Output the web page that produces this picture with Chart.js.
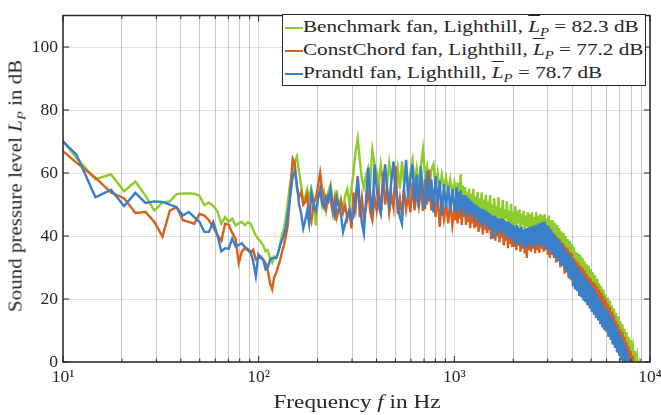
<!DOCTYPE html>
<html>
<head>
<meta charset="utf-8">
<script src="https://cdn.jsdelivr.net/npm/chart.js@4.4.1/dist/chart.umd.min.js"></script>
<style>
  body { margin: 0; background: #fff; }
  #wrap { position: relative; width: 661px; height: 415px; font-family: "Liberation Serif", "DejaVu Serif", serif; color: #262626; }
  canvas { position: absolute; left: 0; top: 0; }
  .axis-title { position: absolute; font-size: 18.5px; line-height: 19px; white-space: nowrap; }
  sub { font-size: 70%; vertical-align: -0.3em; line-height: 0; font-style: italic; }
  .bar { text-decoration: overline; text-decoration-thickness: 1px; }
  #legend { position: absolute; left: 281.5px; top: 14px; width: 362px; height: 70px; border: 1px solid #262626; background: #fff; font-size: 17.5px; line-height: 23px; }
  .row { position: relative; height: 23px; white-space: nowrap; }
  .swatch { position: absolute; left: 2px; top: 11.5px; width: 18px; height: 2.5px; }
  .label { position: absolute; left: 20.5px; top: 0; transform-origin: left center; }
</style>
</head>
<body>
<div id="wrap">
  <canvas id="myChart" width="661" height="415"></canvas>
  <div class="axis-title" id="ytitle" style="left:16.3px; top:186px;">Sound pressure level <i>L</i><sub>P</sub> in dB</div>
  <div class="axis-title" id="xtitle" style="left:356.5px; top:401.5px;">Frequency <i>f</i> in Hz</div>
  <div id="legend"></div>
</div>
<script>
// 頻率軸 (Hz)：低頻為 FFT 頻格，高頻為取樣點
const freqHz = [
  8.79, 11.72, 14.65, 17.58, 20.51, 23.44, 26.37, 29.30, 32.23, 35.16,
  38.09, 41.02, 43.95, 46.88, 49.80, 52.73, 55.66, 58.59, 61.52, 64.45,
  67.38, 70.31, 73.24, 76.17, 79.10, 82.03, 84.96, 87.89, 90.82, 93.75,
  96.68, 99.61, 102.5, 105.5, 108.4, 111.3, 114.3, 117.2, 120.1, 123.0,
  126.0, 128.9, 131.8, 134.8, 137.7, 140.6, 143.6, 146.5, 149.4,
  153, 157, 161, 165, 169, 173, 177, 181, 186, 191, 196, 201, 206, 211, 216, 221, 227, 233, 239, 245, 251, 257, 263, 270, 277, 284, 291, 298,
  305, 313, 321, 329, 337, 345, 354, 363, 372, 381, 391, 401, 411, 421, 432, 443, 454, 465, 477, 489, 501,
  514, 527, 540, 553, 567, 581, 596, 611, 626, 642, 658, 674, 691, 708, 726, 744, 763, 782, 802, 822, 842, 863, 885, 907, 930, 953, 977, 1001,
  1013, 1026, 1039, 1052, 1065, 1078, 1091, 1105,
  1119, 1133, 1147, 1161, 1175, 1190, 1205, 1220,
  1235, 1250, 1266, 1282, 1298, 1314, 1330, 1346,
  1363, 1380, 1397, 1415, 1432, 1450, 1468, 1486,
  1504, 1523, 1542, 1561, 1580, 1600, 1620, 1640,
  1660, 1681, 1702, 1723, 1745, 1767, 1789, 1811,
  1833, 1856, 1879, 1902, 1926, 1950, 1974, 1999,
  2024, 2049, 2074, 2100, 2126, 2152, 2179, 2206,
  2233, 2261, 2289, 2318, 2347, 2376, 2405, 2435,
  2465, 2496, 2527, 2558, 2590, 2622, 2655, 2688,
  2721, 2755, 2789, 2824, 2859, 2895, 2931, 2967,
  3004, 3041, 3079, 3117, 3156, 3195, 3235, 3275,
  3316, 3357, 3399, 3441, 3484, 3527, 3571, 3615,
  3660, 3705, 3751, 3798, 3845, 3893, 3941, 3990,
  4040, 4090, 4141, 4192, 4244, 4297, 4350, 4404,
  4459, 4514, 4570, 4627, 4685, 4743, 4802, 4861,
  4922, 4983, 5045, 5107, 5171, 5235, 5300, 5366,
  5433, 5500, 5569, 5638, 5708, 5779, 5851, 5923,
  5997, 6071, 6147, 6223, 6301, 6379, 6458, 6538,
  6620, 6702, 6785, 6869, 6955, 7041, 7129, 7217,
  7307, 7397, 7489, 7582, 7677, 7772, 7869, 7966,
  8065, 8165, 8267, 8369, 8474, 8579, 8686, 8793,
  8903, 9013
];

// Benchmark fan
const benchmarkDb = [
  74.5, 64.8, 58.0, 59.6, 54.2, 57.3, 52.8, 48.1, 50.7, 51.0,
  53.3, 53.5, 53.5, 53.4, 52.8, 49.8, 50.6, 49.6, 47.8, 43.9,
  46.0, 44.5, 45.5, 43.4, 44.0, 44.5, 43.4, 44.3, 44.0, 41.9,
  40.2, 39.0, 38.2, 37.0, 35.2, 35.5, 33.0, 31.5, 33.5, 33.0,
  34.5, 37.7, 40.5, 42.4, 46.0, 50.0, 54.9, 58.5, 61.0,
  63.5, 65.3, 60.0, 56.0, 50.7, 52.5, 54.9, 52.0, 55.0, 51.7, 43.4, 52.0, 54.9, 50.0, 53.5, 48.5, 54.0, 56.4, 51.0, 45.0, 54.5, 49.0, 51.7, 48.0, 53.0, 54.9, 50.0, 55.0,
  60.0, 66.9, 71.0, 64.0, 58.0, 55.4, 59.5, 61.7, 57.0, 67.4, 63.0, 60.6, 56.0, 62.7, 57.5, 61.0, 57.0, 63.2, 58.0, 61.0, 56.0,
  61.5, 55.0, 63.7, 57.0, 61.0, 55.5, 60.5, 64.2, 57.0, 61.5, 55.5, 62.0, 67.4, 59.0, 62.0, 55.0, 61.0, 62.7, 56.0, 60.0, 54.5, 59.5, 55.5, 58.5, 54.0, 58.0, 53.5, 57.0,
  55.0, 49.0, 57.0, 50.5, 54.5, 59.6, 48.5, 56.0,
  51.5, 55.5, 48.0, 54.0, 49.5, 55.0, 47.5, 53.5,
  50.0, 55.0, 47.0, 52.5, 48.5, 54.0, 46.5, 52.0,
  49.0, 53.8, 46.0, 51.5, 47.5, 53.0, 45.5, 51.0,
  47.0, 53.0, 45.5, 50.0, 46.5, 52.0, 44.5, 49.5,
  46.0, 52.3, 44.5, 49.0, 45.0, 51.5, 44.0, 48.5,
  45.5, 51.0, 43.5, 48.0, 44.5, 50.2, 43.0, 47.5,
  43.0, 49.5, 42.5, 48.0, 44.0, 48.5, 42.0, 47.0,
  43.5, 48.0, 41.5, 46.5, 43.0, 47.6, 41.0, 47.0,
  42.5, 47.5, 41.0, 46.0, 42.0, 47.5, 41.5, 46.5,
  42.0, 47.0, 41.0, 46.5, 41.5, 47.0, 40.5, 45.5,
  41.5, 46.5, 39.5, 45.0, 40.5, 45.0, 38.5, 44.0,
  39.0, 43.5, 37.0, 42.5, 37.5, 41.5, 35.5, 41.0,
  36.0, 40.0, 33.5, 39.0, 34.5, 38.5, 32.0, 37.5,
  30.0, 36.5, 29.5, 35.0, 28.5, 34.5, 27.5, 34.0,
  28.0, 33.0, 26.0, 32.0, 26.5, 31.0, 24.0, 30.5,
  25.0, 29.5, 22.5, 28.5, 23.0, 27.5, 20.5, 26.5,
  21.5, 25.0, 18.5, 24.0, 19.0, 23.0, 16.5, 21.5,
  17.0, 20.5, 14.0, 19.5, 15.0, 18.0, 11.5, 17.0,
  12.5, 15.5, 9.0, 14.5, 10.0, 13.0, 6.5, 12.0,
  8.0, 10.5, 4.5, 9.5, 5.0, 8.0, 2.0, 7.0,
  3.0, 5.0, 0.5, 3.5, -1.0, 1.5, -3.0, -1.0,
  -5.0, -6.0
];

// ConstChord fan
const constChordDb = [
  69.8, 63.3, 58.5, 53.8, 52.0, 47.3, 47.6, 44.5, 39.8, 48.1,
  49.1, 45.0, 44.5, 43.9, 47.0, 46.5, 45.0, 42.9, 40.3, 38.5,
  43.9, 43.6, 41.0, 39.2, 31.4, 35.1, 36.1, 35.5, 34.6, 35.6,
  32.5, 33.0, 33.5, 32.5, 31.4, 29.0, 25.0, 23.1, 27.0, 28.3,
  30.5, 32.5, 35.0, 37.2, 40.0, 43.0, 50.0, 58.0, 64.5,
  63.0, 55.0, 52.5, 54.0, 50.0, 50.7, 53.0, 47.0, 44.5, 50.5, 52.0, 56.0, 60.1, 54.9, 51.0, 48.6, 53.0, 51.7, 47.5, 52.0, 46.0, 48.6, 51.0, 47.5, 49.5, 45.5, 48.0, 42.4,
  53.8, 49.0, 59.0, 46.0, 52.0, 45.5, 49.1, 55.0, 47.5, 45.0, 52.5, 48.0, 54.0, 47.0, 60.1, 50.0, 55.0, 47.5, 53.0, 49.0, 62.2,
  47.0, 52.0, 46.5, 55.0, 48.5, 53.0, 47.5, 57.0, 48.1, 54.0, 49.5, 56.0, 48.0, 58.0, 50.0, 61.1, 48.1, 55.0, 46.0, 53.0, 42.9, 52.0, 45.5, 50.5, 44.0, 51.0, 43.4, 49.0,
  45.0, 53.0, 44.0, 51.0, 45.5, 52.0, 43.5, 50.5,
  46.0, 50.5, 43.5, 49.5, 44.5, 50.0, 42.5, 48.5,
  44.0, 49.0, 42.5, 48.5, 43.0, 48.0, 41.3, 47.5,
  43.0, 47.5, 40.5, 46.5, 42.0, 46.5, 41.0, 45.5,
  42.0, 45.5, 39.0, 45.0, 40.5, 45.0, 38.5, 44.5,
  40.0, 44.5, 38.0, 43.5, 39.5, 43.5, 37.0, 43.0,
  38.5, 43.0, 36.1, 42.5, 37.5, 42.0, 36.5, 42.0,
  36.5, 42.0, 35.5, 42.5, 37.0, 41.5, 35.0, 42.0,
  36.0, 41.5, 34.5, 42.0, 33.0, 41.5, 35.5, 42.0,
  35.0, 42.5, 36.0, 42.0, 34.5, 43.0, 35.5, 42.5,
  34.6, 43.5, 36.0, 43.0, 35.0, 43.5, 35.5, 43.0,
  34.0, 42.5, 33.0, 42.0, 34.0, 40.5, 33.0, 40.5,
  31.5, 39.5, 32.0, 39.0, 30.0, 38.0, 30.5, 37.5,
  28.0, 36.5, 28.5, 36.0, 26.5, 35.0, 26.0, 34.5,
  25.5, 33.0, 24.0, 32.0, 24.5, 31.5, 22.0, 30.5,
  22.5, 30.0, 20.0, 29.0, 21.0, 28.0, 18.0, 27.0,
  19.0, 26.5, 16.5, 25.5, 17.0, 25.0, 14.5, 24.0,
  15.0, 23.0, 12.5, 22.0, 13.0, 21.0, 10.0, 20.0,
  11.0, 18.5, 8.0, 17.5, 9.0, 16.0, 6.0, 15.0,
  7.0, 13.0, 4.0, 12.0, 4.5, 10.5, 2.0, 9.5,
  3.0, 8.0, -1.0, 6.5, 0.0, 5.0, -3.0, 3.5,
  -2.0, 2.0, -5.0, 0.0, -6.0, -3.0, -8.0, -6.0,
  -9.0, -10.0
];

// Prandtl fan
const prandtlDb = [
  73.4, 65.8, 52.3, 54.7, 49.5, 53.7, 50.5, 51.0, 50.8, 50.0,
  49.1, 46.5, 47.6, 46.0, 44.5, 41.3, 41.3, 44.5, 40.3, 35.1,
  36.1, 36.0, 39.2, 36.7, 37.2, 37.7, 36.5, 35.8, 35.1, 32.0,
  27.3, 34.1, 33.0, 32.5, 29.4, 30.0, 32.5, 33.0, 33.0, 33.0,
  35.0, 37.2, 38.7, 40.5, 42.4, 46.5, 50.7, 55.0, 59.0,
  60.5, 56.0, 50.0, 47.0, 42.4, 45.0, 48.0, 44.0, 53.8, 50.0, 48.0, 52.0, 54.9, 50.5, 49.0, 52.5, 51.0, 54.9, 50.0, 46.8, 52.0, 49.5, 47.0, 41.3, 44.0, 46.5, 48.5, 45.0,
  46.0, 52.0, 58.5, 50.0, 44.0, 40.8, 52.0, 61.7, 53.0, 47.0, 62.7, 55.0, 49.5, 47.0, 56.0, 62.7, 54.0, 50.0, 58.0, 63.7, 55.0,
  50.0, 46.0, 43.9, 55.0, 64.2, 52.0, 58.0, 62.7, 50.7, 59.5, 49.0, 62.2, 54.0, 48.5, 60.5, 51.0, 58.0, 47.5, 59.0, 50.0, 57.5, 46.5, 56.5, 49.0, 55.9, 48.0, 55.0, 48.1,
  48.0, 55.5, 47.5, 54.0, 49.0, 54.5, 47.0, 53.0,
  48.5, 53.0, 46.0, 52.5, 47.5, 51.7, 46.5, 51.0,
  47.0, 50.5, 45.0, 50.0, 46.0, 49.5, 44.5, 49.0,
  45.5, 48.6, 43.4, 48.5, 44.5, 48.0, 43.0, 47.5,
  44.0, 47.0, 42.5, 46.5, 39.2, 46.5, 42.0, 46.0,
  42.5, 45.5, 41.0, 45.5, 42.0, 45.5, 40.5, 45.0,
  41.5, 44.5, 40.0, 44.5, 38.7, 44.0, 39.5, 43.5,
  37.5, 43.0, 38.0, 43.4, 37.0, 42.5, 38.2, 43.0,
  36.5, 42.0, 37.0, 42.4, 36.1, 42.5, 37.5, 43.0,
  36.5, 43.0, 37.5, 43.4, 36.5, 43.5, 37.5, 44.0,
  37.2, 44.0, 36.5, 44.5, 37.0, 44.5, 36.0, 43.5,
  35.5, 43.0, 35.1, 42.0, 34.5, 41.0, 33.5, 40.0,
  33.0, 39.5, 32.0, 38.5, 31.0, 37.5, 30.5, 36.5,
  29.5, 35.5, 28.5, 34.5, 27.0, 34.0, 26.5, 33.0,
  24.0, 32.0, 23.0, 30.5, 22.5, 30.0, 21.0, 28.8,
  20.5, 28.0, 19.5, 27.0, 19.0, 26.0, 18.0, 25.5,
  17.0, 24.5, 16.0, 23.6, 15.0, 22.5, 14.0, 21.5,
  13.2, 20.0, 12.0, 19.0, 11.0, 18.0, 10.5, 17.0,
  9.5, 16.3, 8.0, 15.0, 7.0, 14.0, 5.5, 12.5,
  4.5, 11.1, 3.0, 10.0, 2.0, 8.5, 0.5, 7.0,
  -0.5, 5.9, -2.0, 4.0, -3.0, 2.0, -5.0, 0.0,
  -6.0, -2.0, -8.0, -4.0, -9.0, -6.0, -11.0, -8.0,
  -13.0, -14.0
];

const seriesNames = ["Benchmark fan", "ConstChord fan", "Prandtl fan"];
const seriesLevels = ["82.3", "77.2", "78.7"];
const seriesColors = ["#8ecb2d", "#d95f1e", "#3b7fc8"];
const seriesValues = [benchmarkDb, constChordDb, prandtlDb];

const yTicks = [0, 20, 40, 60, 80, 100];
const xDecades = [10, 100, 1000, 10000];
const xDecadeLabels = ["10¹", "10²", "10³", "10⁴"];
const xMinorTicks = [20, 30, 40, 50, 60, 70, 80, 90, 200, 300, 400, 500, 600, 700, 800, 900, 2000, 3000, 4000, 5000, 6000, 7000, 8000, 9000];

const fontFamily = '"Liberation Serif", "DejaVu Serif", serif';
const axisColor = "#262626";

seriesValues.forEach((vals, i) => {
  if (vals.length !== freqHz.length) console.error(seriesNames[i], vals.length, freqHz.length);
});

function toPoints(values) {
  return values.map((v, i) => ({ x: freqHz[i], y: v }));
}

// 圖例 (含數學符號，用 HTML)
const legendBox = document.getElementById("legend");
seriesNames.forEach((name, i) => {
  legendBox.innerHTML += `<div class="row">
    <span class="swatch" style="background:${seriesColors[i]}"></span>
    <span class="label">${name}, Lighthill, <i class="bar">L</i><sub>P</sub> = ${seriesLevels[i]} dB</span>
  </div>`;
});

// 文字寬度對齊參考圖
const xTitle = document.getElementById("xtitle");
const yTitle = document.getElementById("ytitle");
xTitle.style.transform = `translate(-50%, -50%) scaleX(${167 / xTitle.offsetWidth})`;
yTitle.style.transform = `translate(-50%, -50%) rotate(-90deg) scaleX(${252 / yTitle.offsetWidth})`;
const labels = legendBox.querySelectorAll(".label");
const legendScale = 340 / labels[1].offsetWidth;
labels.forEach((el) => { el.style.transform = `scaleX(${legendScale})`; });

// 邊框與內側刻度
const framePlugin = {
  id: "frame",
  afterDatasetsDraw(chart) {
    const { ctx, chartArea: a, scales } = chart;
    const x = scales.x;
    const y = scales.y;
    ctx.save();
    ctx.strokeStyle = axisColor;
    ctx.lineWidth = 1;
    ctx.beginPath();
    xDecades.forEach((v) => {
      const px = x.getPixelForValue(v);
      ctx.moveTo(px, a.bottom);
      ctx.lineTo(px, a.bottom - 6);
      ctx.moveTo(px, a.top);
      ctx.lineTo(px, a.top + 6);
    });
    xMinorTicks.forEach((v) => {
      const px = x.getPixelForValue(v);
      ctx.moveTo(px, a.bottom);
      ctx.lineTo(px, a.bottom - 3.5);
      ctx.moveTo(px, a.top);
      ctx.lineTo(px, a.top + 3.5);
    });
    yTicks.forEach((v) => {
      const py = y.getPixelForValue(v);
      ctx.moveTo(a.left, py);
      ctx.lineTo(a.left + 6, py);
      ctx.moveTo(a.right, py);
      ctx.lineTo(a.right - 6, py);
    });
    ctx.stroke();
    ctx.lineWidth = 1.5;
    ctx.strokeRect(a.left, a.top, a.right - a.left, a.bottom - a.top);
    ctx.restore();
  },
};

const config = {
  type: "line",
  data: {
    datasets: seriesNames.map((name, i) => ({
      label: name,
      data: toPoints(seriesValues[i]),
      borderColor: seriesColors[i],
      borderWidth: 2.4,
      pointRadius: 0,
      tension: 0,
      fill: false,
      order: seriesNames.length - i, // Prandtl 畫在最上面
    })),
  },
  options: {
    responsive: false,
    animation: false,
    devicePixelRatio: 1,
    layout: { padding: { top: 10, right: 11, left: 0, bottom: 0 } },
    plugins: { legend: { display: false }, tooltip: { enabled: false } },
    scales: {
      x: {
        type: "logarithmic",
        min: 10,
        max: 10000,
        afterBuildTicks: (scale) => {
          scale.ticks = xDecades
            .concat(xMinorTicks)
            .sort((a, b) => a - b)
            .map((v) => ({ value: v, major: xDecades.includes(v) }));
        },
        afterFit: (scale) => {
          scale.height = 53;
          scale.paddingLeft = 0;
          scale.paddingRight = 0;
        },
        border: { display: false },
        grid: {
          drawTicks: false,
          lineWidth: 1,
          color: (ctx) =>
            ctx.tick && xDecades.includes(ctx.tick.value)
              ? "rgba(38,38,38,0.15)"
              : "rgba(38,38,38,0.25)",
        },
        ticks: {
          autoSkip: false,
          maxRotation: 0,
          padding: 5,
          color: axisColor,
          font: { family: fontFamily, size: 17.5 },
          callback: (value) => {
            const k = xDecades.indexOf(value);
            return k >= 0 ? xDecadeLabels[k] : "";
          },
        },
      },
      y: {
        min: 0,
        max: 110,
        afterBuildTicks: (scale) => {
          scale.ticks = yTicks.map((v) => ({ value: v }));
        },
        afterFit: (scale) => {
          scale.width = 63;
        },
        border: { display: false },
        grid: { drawTicks: false, lineWidth: 1, color: "rgba(38,38,38,0.15)" },
        ticks: {
          padding: 5,
          color: axisColor,
          font: { family: fontFamily, size: 17.5 },
        },
      },
    },
  },
  plugins: [framePlugin],
};

const myChart = new Chart(document.getElementById("myChart"), config);
</script>
</body>
</html>
